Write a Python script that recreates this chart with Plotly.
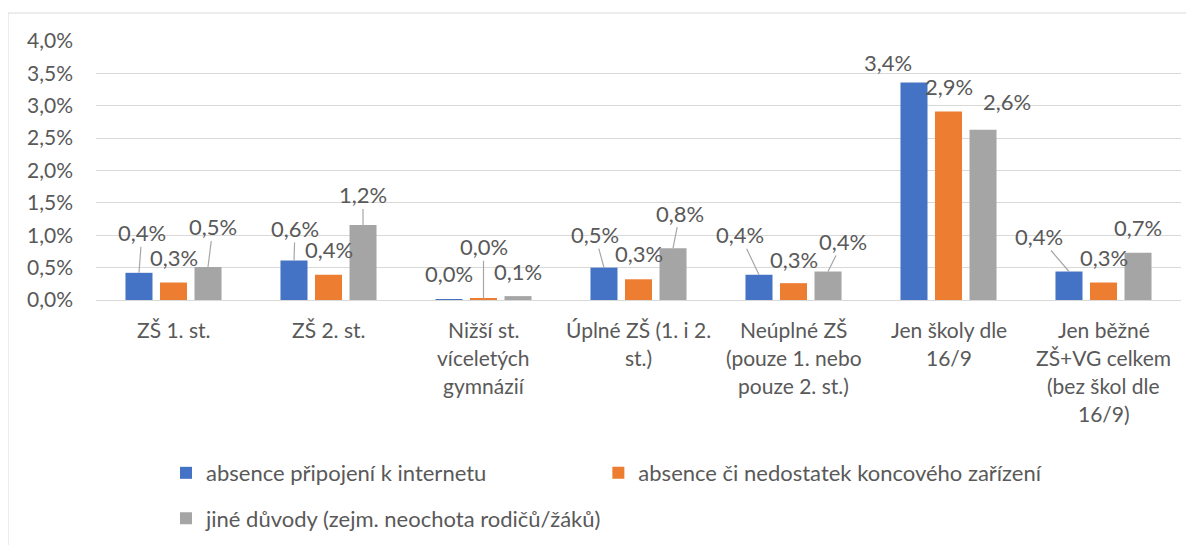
import plotly.graph_objects as go

categories = ["ZŠ 1. st.", "ZŠ 2. st.", "Nižší st. víceletých gymnázií",
              "Úplné ZŠ (1. i 2. st.)", "Neúplné ZŠ (pouze 1. nebo pouze 2. st.)",
              "Jen školy dle 16/9", "Jen běžné ZŠ+VG celkem (bez škol dle 16/9)"]
category_lines = [["ZŠ 1. st."], ["ZŠ 2. st."], ["Nižší st.", "víceletých", "gymnázií"],
                  ["Úplné ZŠ (1. i 2.", "st.)"], ["Neúplné ZŠ", "(pouze 1. nebo", "pouze 2. st.)"],
                  ["Jen školy dle", "16/9"], ["Jen běžné", "ZŠ+VG celkem", "(bez škol dle", "16/9)"]]

series_names = ["absence připojení k internetu",
                "absence či nedostatek koncového zařízení",
                "jiné důvody (zejm. neochota rodičů/žáků)"]
internet = [0.42, 0.61, 0.005, 0.50, 0.39, 3.36, 0.44]
device = [0.27, 0.39, 0.02, 0.32, 0.26, 2.91, 0.27]
other = [0.51, 1.16, 0.06, 0.80, 0.44, 2.63, 0.73]
series_values = [internet, device, other]
colors = ["#4472C4", "#ED7D31", "#A5A5A5"]

y_ticks = [0, 0.005, 0.01, 0.015, 0.02, 0.025, 0.03, 0.035, 0.04]

# label offsets (pixels, text centre relative to bar top) and whether a leader line is drawn
label_offsets = [
    [(3, -40, True), (1, -32, True), (0, -26, False), (-9, -33, True), (-19, -40, True), (-26, -20, False), (-30, -35, True)],
    [(0, -25, False), (0, -25, False), (0, -52, True), (0, -26, False), (0, -24, False), (0, -25, False), (0, -25, False)],
    [(5, -40, True), (0, -30, True), (0, -25, False), (7, -35, True), (15, -30, True), (24, -28, False), (0, -25, False)],
]

FONT = "Lato"
TXT = "#595959"
bar_pitch = 34.5
legend_ids = ["legend", "legend3", "legend2"]

fig = go.Figure()
for i, (name, vals, col) in enumerate(zip(series_names, series_values, colors)):
    fig.add_trace(go.Bar(
        x=categories, y=[v / 100 for v in vals], name=name,
        marker=dict(color=col, line=dict(width=0)),
        legend=legend_ids[i],
        hoverinfo="skip",
    ))

annotations = []
for i, vals in enumerate(series_values):
    for j, v in enumerate(vals):
        dx, dy, lead = label_offsets[i][j]
        annotations.append(dict(
            x=categories[j], y=v / 100, xref="x", yref="y",
            xshift=(i - 1) * bar_pitch,
            text=f"{v:.1f}".replace(".", ",") + "%",
            showarrow=True, arrowhead=0, arrowwidth=1.2,
            arrowcolor="#A6A6A6" if lead else "rgba(0,0,0,0)",
            ax=dx, ay=dy, axref="pixel", ayref="pixel",
            font=dict(family=FONT, size=22, color=TXT),
            standoff=0, startstandoff=0, borderpad=0,
        ))

for j, lines in enumerate(category_lines):
    for k, line in enumerate(lines):
        annotations.append(dict(
            x=categories[j], y=0, xref="x", yref="paper",
            yanchor="middle", yshift=-(29 + 28 * k),
            text=line, showarrow=False,
            font=dict(family=FONT, size=21, color=TXT),
        ))

leg_common = dict(orientation="h", xanchor="left", yanchor="middle",
                  font=dict(family=FONT, size=22, color=TXT), bgcolor="rgba(0,0,0,0)")

# page body adds an 8px offset, so the figure is drawn 8px smaller
fig.update_layout(
    width=1186, height=537,
    margin=dict(l=88, r=13, t=33, b=245, autoexpand=False),
    paper_bgcolor="white", plot_bgcolor="white",
    separators=", ",
    font=dict(family=FONT, size=21, color=TXT),
    barmode="group", bargap=0.332, bargroupgap=0.217,
    showlegend=True,
    legend=dict(x=0.0645, y=-0.668, **leg_common),
    legend3=dict(x=0.463, y=-0.668, **leg_common),
    legend2=dict(x=0.0645, y=-0.843, **leg_common),
    annotations=annotations,
    shapes=[dict(type="rect", xref="paper", yref="paper",
                 x0=-0.0811, x1=1.03, y0=-1.0, y1=1.108,
                 line=dict(color="#D9D9D9", width=1), fillcolor="rgba(0,0,0,0)")],
)
fig.update_xaxes(showticklabels=False, showgrid=False, zeroline=False, showline=False,
                 ticks="", fixedrange=True)
fig.update_yaxes(range=[0, 0.04], tickvals=y_ticks, tickformat=".1%",
                 showgrid=True, gridcolor="#D9D9D9", gridwidth=1,
                 zeroline=True, zerolinecolor="#D9D9D9", zerolinewidth=1,
                 showline=False, ticks="", ticklabelstandoff=22,
                 tickfont=dict(family=FONT, size=21, color=TXT))

fig.write_html("out.html")
